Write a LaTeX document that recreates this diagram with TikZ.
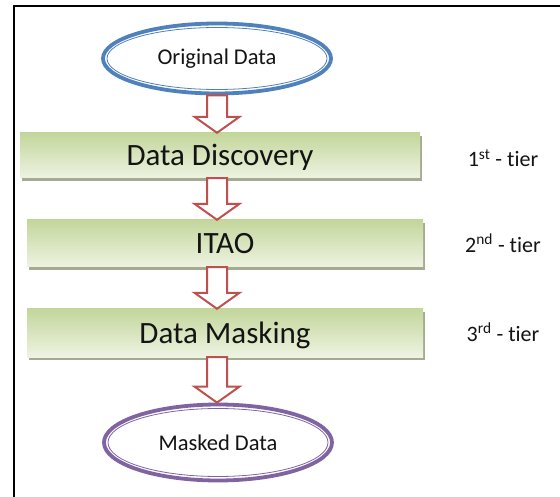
\documentclass[tikz,border=0pt]{standalone}
\usepackage{fontspec}
\setmainfont[Ligatures={NoCommon}]{Carlito}
\usetikzlibrary{shapes.geometric,shadows,calc}
\definecolor{ogblue}{HTML}{4F81BD}
\definecolor{ogpurple}{HTML}{8064A2}
\definecolor{arrred}{HTML}{C0504D}
\definecolor{gtop}{HTML}{C3D69B}
\definecolor{gbot}{HTML}{EEF3E2}
\definecolor{gshadow}{HTML}{A3AC90}
\definecolor{txt}{HTML}{141414}
\begin{document}
\begin{tikzpicture}[x=1pt,y=-1pt,
  tierbox/.style={rectangle, inner sep=0pt, top color=gtop, bottom color=gbot, draw=none,
    text=txt, font=\fontsize{31}{34}\selectfont, text height=20pt, text depth=0pt,
    drop shadow={shadow xshift=2pt, shadow yshift=-3pt, fill=gshadow, opacity=1}},
  termnode/.style={ellipse, inner sep=0pt, minimum width=228pt, minimum height=70pt,
    line width=3.8pt, fill=white, text=txt, font=\fontsize{22.5}{26}\selectfont},
  tierlabel/.style={text=txt, font=\fontsize{22}{26}\selectfont, inner sep=0pt},
  blockarrow/.style={draw=arrred, fill=white, line width=2pt, line join=miter},
]
\useasboundingbox (0,0) rectangle (560,497);
\fill[white] (0,0) rectangle (560,497);
% frame
\draw[line width=2.5pt] (560,6) -- (14,6) -- (14,497);

% terminals
\node[termnode, draw=ogblue] (od) at (217,58.5) {Original Data};
\draw[ogblue, line width=0.8pt] (od.center) ellipse [x radius=110pt, y radius=31pt];
\node[termnode, draw=ogpurple, minimum height=76pt] (md) at (218,442.5) {Masked Data};
\draw[ogpurple, line width=0.8pt] (md.center) ellipse [x radius=110pt, y radius=34pt];

% tier boxes
\node[tierbox, minimum width=400pt, minimum height=45pt] (dd) at (220,155.5) {Data Discovery};
\node[tierbox, minimum width=396pt, minimum height=47pt] (it) at (225,243.5) {ITAO};
\node[tierbox, minimum width=396pt, minimum height=48pt] (dm) at (225,333) {Data Masking};

% tier labels
\node[tierlabel] (t1) at (503,158) {1\textsuperscript{st} - tier};
\node[tierlabel] (t2) at (503,243) {2\textsuperscript{nd} - tier};
\node[tierlabel] (t3) at (503,332) {3\textsuperscript{rd} - tier};

% block arrows
\newcommand\blockarr[2]{%
  \draw[blockarrow] let \p1=(od.center), \p2=(#1.south), \p3=(#2.north) in
    (\x1-10pt,\y2) -- (\x1+10pt,\y2) -- (\x1+10pt,\y3+16pt) -- (\x1+22.5pt,\y3+16pt)
    -- (\x1,\y3) -- (\x1-22.5pt,\y3+16pt) -- (\x1-10pt,\y3+16pt) -- cycle;}
\blockarr{od}{dd}
\blockarr{dd}{it}
\blockarr{it}{dm}
\blockarr{dm}{md}
\end{tikzpicture}
\end{document}
